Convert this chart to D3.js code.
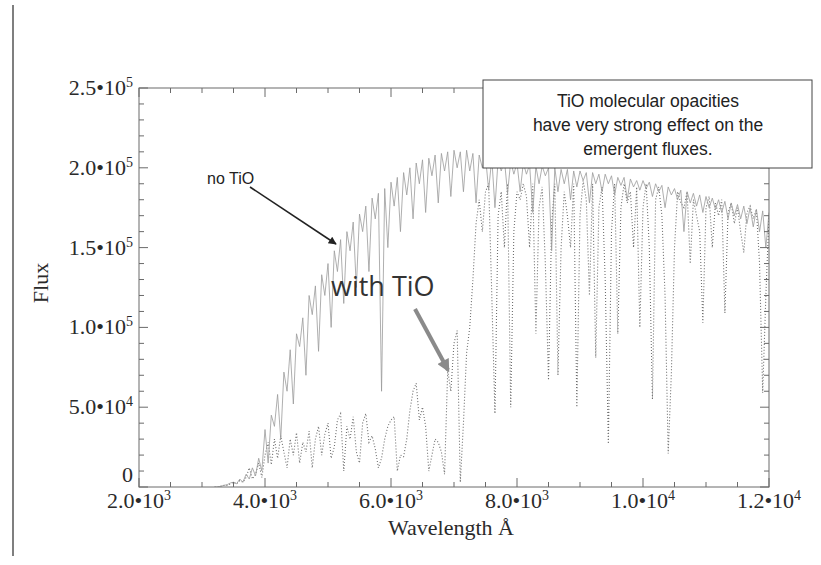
<!DOCTYPE html>
<html><head><meta charset="utf-8">
<script src="https://cdn.jsdelivr.net/npm/d3@7"></script>
<style>body{margin:0;background:#fff}svg{display:block}</style>
</head><body>
<script>
// ---- data ----
const lambdaStart = 3200, lambdaStep = 50; // sampling grid (Å)
// Flux without TiO (units of 1e3)
const fluxNoTiO = [0,0,0.5,1,1.5,2.5,3,2,5,3,8,5,12,7,18,10,
36,15,45,38,58,30,72,60,86,52,96,88,106,70,120,108,126,85,133,120,
140,100,148,135,155,115,160,148,166,125,171,160,176,135,181,168,184,60,187,150,
191,176,194,160,197,183,200,168,203,190,205,172,206,195,208,178,209,198,210,182,
211,200,210,185,211,198,209,178,208,200,207,186,206,175,205,198,205,184,204,196,
203,185,203,196,202,172,201,190,201,195,200,148,200,185,199,190,199,180,198,188,
198,192,197,178,197,190,196,185,196,190,195,183,194,189,194,180,193,188,192,186,
192,187,191,182,190,185,189,175,188,183,187,180,186,160,185,178,184,176,183,172,
182,175,181,174,180,172,179,168,178,170,177,168,176,165,175,163,174,160,173,150,172];
// Flux with TiO (units of 1e3)
const fluxTiO = [0,0,0.5,1,1,2,3,2,4,3,6,12,5,8,15,6,
20,28,14,30,18,32,22,12,30,20,34,15,28,22,35,12,30,38,20,33,
40,18,25,42,46,10,38,30,44,22,15,40,46,28,32,24,12,18,30,38,
42,44,10,20,19,30,48,60,65,42,50,38,10,20,30,28,22,8,73,60,
90,98,3,40,84,100,130,165,180,160,185,190,120,46,170,185,150,190,50,160,
185,180,190,182,150,190,96,175,188,140,67,165,190,70,150,185,170,150,190,50,
170,192,180,120,190,81,175,188,130,27,160,190,96,175,190,178,185,150,188,100,
175,190,150,55,180,188,170,120,21,71,150,185,178,175,185,140,180,170,160,103,
175,182,150,178,170,180,109,172,178,165,175,160,147,172,176,168,174,140,59,120,170];
const xTicks = [2000,4000,6000,8000,10000,12000];
const xTickMant = ["2.0","4.0","6.0","8.0","1.0","1.2"];
const xTickExp = ["3","3","3","3","4","4"];
const yTicks = [0,50,100,150,200,250]; // units of 1e3
const yTickMant = ["0","5.0","1.0","1.5","2.0","2.5"];
const yTickExp = ["","4","5","5","5","5"];
const noteLines = ["TiO molecular opacities","have very strong effect on the","emergent fluxes."];

const W = 821, H = 565;
const svg = d3.select("body").append("svg").attr("width",W).attr("height",H);
const pl = 139, pr = 769, pt = 88, pb = 487;
const x = d3.scaleLinear().domain([2000,12000]).range([pl,pr]);
const y = d3.scaleLinear().domain([0,250]).range([pb,pt]);
const frameCol = "#6a6a6a", textCol = "#2a2a2a";

// slide edge line
svg.append("line").attr("x1",13).attr("x2",13).attr("y1",5).attr("y2",556)
  .attr("stroke","#555").attr("stroke-width",1.5);

// data
const lam = (d,i) => lambdaStart + i*lambdaStep;
const line = d3.line().x((d,i)=>x(lam(d,i))).y(d=>y(d));
svg.append("clipPath").attr("id","c").append("rect")
  .attr("x",pl).attr("y",pt).attr("width",pr-pl).attr("height",pb-pt);
const g = svg.append("g").attr("clip-path","url(#c)");
g.append("path").datum(fluxTiO).attr("d",line).attr("fill","none")
  .attr("stroke","#6e6e6e").attr("stroke-width",1.1).attr("stroke-dasharray","1,2");
g.append("path").datum(fluxNoTiO).attr("d",line).attr("fill","none")
  .attr("stroke","#9a9a9a").attr("stroke-width",0.8);

// frame
svg.append("rect").attr("x",pl).attr("y",pt).attr("width",pr-pl).attr("height",pb-pt)
  .attr("fill","none").attr("stroke",frameCol).attr("stroke-width",1);

// axes with inward ticks
const xMinor = d3.range(2000,12001,500).filter(v=>!xTicks.includes(v));
const yMinor = d3.range(0,251,10).filter(v=>!yTicks.includes(v));
function ticksX(vals,len){
  vals.forEach(v=>{
    svg.append("line").attr("x1",x(v)).attr("x2",x(v)).attr("y1",pb).attr("y2",pb-len).attr("stroke",frameCol);
    svg.append("line").attr("x1",x(v)).attr("x2",x(v)).attr("y1",pt).attr("y2",pt+len).attr("stroke",frameCol);
  });
}
function ticksY(vals,len){
  vals.forEach(v=>{
    svg.append("line").attr("y1",y(v)).attr("y2",y(v)).attr("x1",pl).attr("x2",pl+len).attr("stroke",frameCol);
    svg.append("line").attr("y1",y(v)).attr("y2",y(v)).attr("x1",pr).attr("x2",pr-len).attr("stroke",frameCol);
  });
}
ticksX(xTicks,9); ticksX(xMinor,5); ticksY(yTicks,9); ticksY(yMinor,5);

const serif = "'Liberation Serif','Times New Roman',serif";
// x tick labels
xTicks.forEach((v,i)=>{
  const t = svg.append("text").attr("x",x(v)).attr("y",pb+21).attr("text-anchor","middle")
    .attr("font-family",serif).attr("font-size",22).attr("fill",textCol);
  t.append("tspan").text(xTickMant[i]+"\u2022"+"10");
  t.append("tspan").attr("dy",-8).attr("font-size",14).text(xTickExp[i]);
});
// y tick labels
yTicks.forEach((v,i)=>{
  const t = svg.append("text").attr("x",pl-6).attr("y",y(v)+(v===0?-5:7)).attr("text-anchor","end")
    .attr("font-family",serif).attr("font-size",22).attr("fill",textCol);
  if(yTickExp[i]===""){ t.text(yTickMant[i]); }
  else{
    t.append("tspan").text(yTickMant[i]+"\u2022"+"10");
    t.append("tspan").attr("dy",-8).attr("font-size",14).text(yTickExp[i]);
  }
});
// axis titles
svg.append("text").attr("x",451).attr("y",535).attr("text-anchor","middle")
  .attr("font-family",serif).attr("font-size",22).attr("fill",textCol).text("Wavelength Å");
svg.append("text").attr("transform",`translate(48,283) rotate(-90)`).attr("text-anchor","middle")
  .attr("font-family",serif).attr("font-size",22).attr("fill",textCol).text("Flux");

// note box
svg.append("rect").attr("x",483).attr("y",80).attr("width",329).attr("height",88)
  .attr("fill","#fff").attr("stroke","#444").attr("stroke-width",1);
noteLines.forEach((s,i)=>{
  svg.append("text").attr("x",648).attr("y",107+i*24).attr("text-anchor","middle")
    .attr("font-family","'Liberation Sans',Arial,sans-serif").attr("font-size",17.5).attr("fill","#222").text(s);
});

// annotations
const defs = svg.append("defs");
defs.append("marker").attr("id","ab").attr("viewBox","0 0 10 10").attr("refX",9).attr("refY",5)
  .attr("markerWidth",6).attr("markerHeight",5).attr("orient","auto").attr("markerUnits","strokeWidth")
  .append("path").attr("d","M0,0L10,5L0,10z").attr("fill","#222");
defs.append("marker").attr("id","ag").attr("viewBox","0 0 10 10").attr("refX",8).attr("refY",5)
  .attr("markerWidth",3.4).attr("markerHeight",3.2).attr("orient","auto").attr("markerUnits","strokeWidth")
  .append("path").attr("d","M0,0L10,5L0,10z").attr("fill","#8a8a8a");
svg.append("text").attr("x",207).attr("y",184).attr("font-family","'Liberation Sans',Arial,sans-serif")
  .attr("font-size",16).attr("fill","#222").text("no TiO");
svg.append("line").attr("x1",250).attr("y1",187).attr("x2",336).attr("y2",244)
  .attr("stroke","#222").attr("stroke-width",1.6).attr("marker-end","url(#ab)");
svg.append("text").attr("x",331).attr("y",296).attr("font-family","'Open Sans',sans-serif")
  .attr("font-size",27).attr("fill","#333").text("with TiO");
svg.append("line").attr("x1",415).attr("y1",309).attr("x2",448).attr("y2",370)
  .attr("stroke","#8a8a8a").attr("stroke-width",4).attr("marker-end","url(#ag)");
</script>
</body></html>
